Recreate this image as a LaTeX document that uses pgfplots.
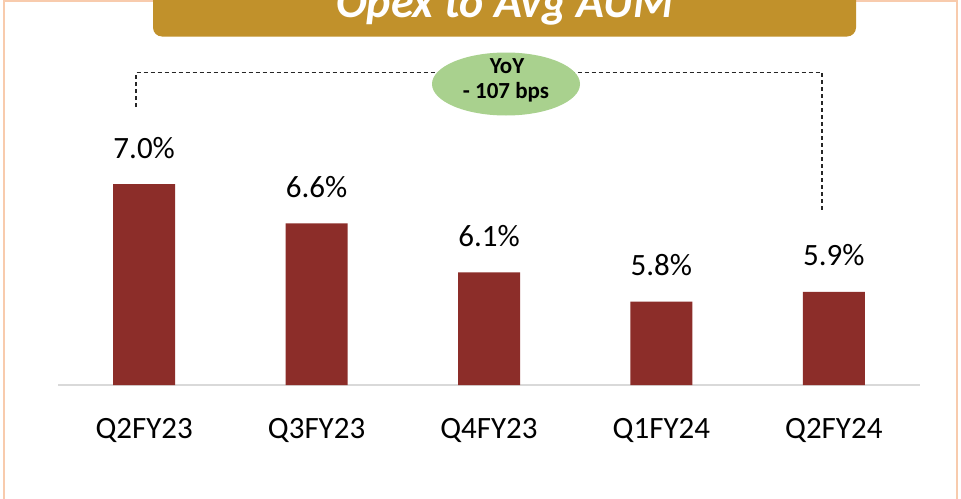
\documentclass[border=0pt]{standalone}
\usepackage{fontspec}
\setmainfont{Carlito}
\usepackage{pgfplots}
\pgfplotsset{compat=1.18}
\definecolor{barred}{HTML}{8C2D29}
\definecolor{gold}{HTML}{C1912B}
\definecolor{peach}{HTML}{F8CBAD}
\definecolor{ellgreen}{HTML}{A9D18E}
\definecolor{axgray}{HTML}{D9D9D9}
\begin{document}
\begin{tikzpicture}[x=1pt,y=1pt]
\useasboundingbox (0,0) rectangle (961,-498);
\clip (0,0) rectangle (961,-498);
\fill[white] (0,0) rectangle (961,-498);
% frame
\draw[peach, line width=2pt] (4,-510) -- (4,-1) -- (957,-1) -- (957,-510);
% banner
\fill[gold, rounded corners=9pt] (153,30) rectangle (856,-36.5);
\node[white, inner sep=0pt, anchor=base, font=\fontsize{46}{50}\selectfont\bfseries\itshape] at (505,-17) {Opex to Avg AUM};
\begin{axis}[
  at={(58pt,-385pt)}, anchor=south west,
  scale only axis, width=862pt, height=298.9pt,
  xmin=-0.5, xmax=4.5, ymin=4.95, ymax=8,
  axis x line*=bottom, axis y line=none,
  x axis line style={axgray, line width=1.5pt},
  xtick={0,1,2,3,4},
  xticklabels={Q2FY23,Q3FY23,Q4FY23,Q1FY24,Q2FY24},
  major tick length=0pt,
  xticklabel style={anchor=base, inner sep=0pt, yshift=-53pt, font=\fontsize{31}{36}\selectfont},
  ybar, bar width=62pt,
  nodes near coords={\pgfmathprintnumber[assume math mode=true,fixed,fixed zerofill,precision=1]{\pgfplotspointmeta}\%},
  every node near coord/.append style={anchor=base, inner sep=0pt, yshift=26pt, black, font=\fontsize{31}{36}\selectfont},
]
\addplot[fill=barred, draw=none] coordinates {(0,7.0) (1,6.6) (2,6.1) (3,5.8) (4,5.9)};
\end{axis}
% YoY bracket
\draw[black!85, line width=1.2pt, dash pattern=on 4pt off 3pt] (136,-107) -- (136,-72.5) -- (822,-72.5) -- (822,-210);
\fill[ellgreen] (506,-84) ellipse [x radius=74, y radius=31.5];
\node[anchor=base, inner sep=0pt, font=\fontsize{23}{27}\selectfont\bfseries] at (507,-73) {YoY};
\node[anchor=base, inner sep=0pt, font=\fontsize{23}{27}\selectfont\bfseries] at (506,-98.5) {- 107 bps};
\end{tikzpicture}
\end{document}
